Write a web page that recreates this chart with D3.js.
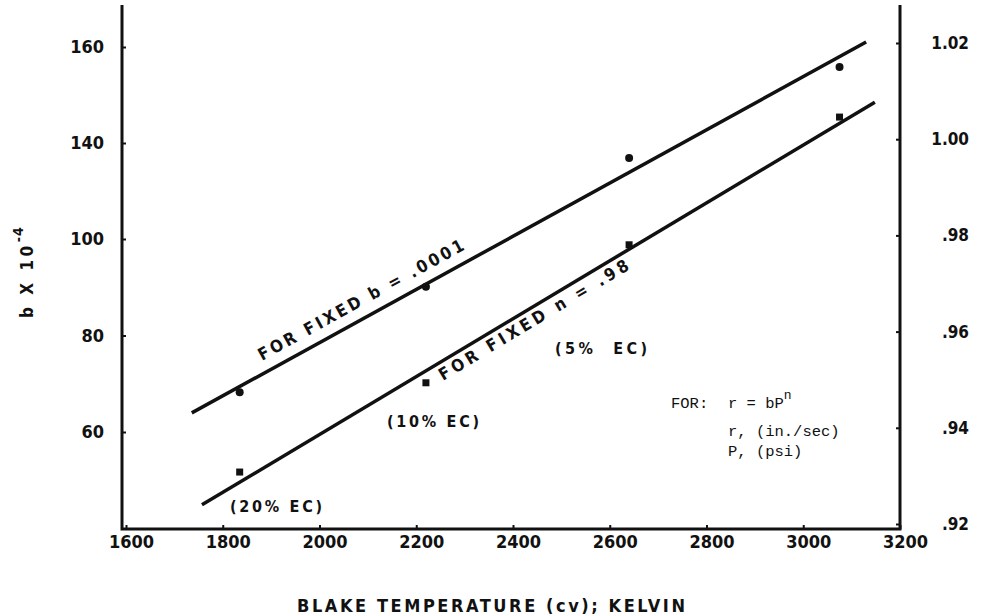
<!DOCTYPE html>
<html>
<head>
<meta charset="utf-8">
<script src="https://cdn.jsdelivr.net/npm/d3@7/dist/d3.min.js"></script>
<style>
  html, body { margin: 0; padding: 0; background: #fff; }
  svg { display: block; }
</style>
</head>
<body>
<svg id="chart" width="985" height="615"></svg>
<script>
// ---- data ----
const xTicks = [1600, 1800, 2000, 2200, 2400, 2600, 2800, 3000, 3200];
const leftTicks = [60, 80, 100, 140, 160];          // b x 10^-4 (as printed)
const rightTicks = [0.92, 0.94, 0.96, 0.98, 1.00, 1.02]; // n
const rightTickLabels = [".92", ".94", ".96", ".98", "1.00", "1.02"];

// measured points
const pointTemps = [1835, 2220, 2640, 3075];
const nValues = [0.9474, 0.9693, 0.9961, 1.0150];   // for fixed b = .0001 (right axis)
const bValues = [51.7, 70.2, 98.8, 145.4];          // for fixed n = .98 (left axis)

// fitted lines (end points)
const nFitTemps = [1736, 3130];
const nFitValues = [0.9431, 1.0202];
const bFitTemps = [1757, 3148];
const bFitValues = [44.9, 148.5];

const ecLabels = ["(20% EC)", "(10% EC)", "(5%  EC)"];

// ---- layout ----
const svg = d3.select("#chart");
const L = 122, R = 900, T = 5, B = 529;
const ink = "#111";
const sans = "'DejaVu Sans Condensed', 'DejaVu Sans', sans-serif";
const mono = "'Liberation Mono', 'DejaVu Sans Mono', monospace";

const x = d3.scaleLinear().domain([1600, 3200]).range([126, 900]);
const yN = d3.scaleLinear().domain([0.92, 1.02]).range([524, 43]);
// the printed left axis is evenly spaced although labelled 60,80,100,140,160
const yB = d3.scaleLinear().domain([60, 100, 140, 160]).range([432, 239, 143, 47]);

// frame
svg.append("path")
  .attr("d", `M${L},${T}V${B}H${R}V${T}`)
  .attr("fill", "none").attr("stroke", ink).attr("stroke-width", 3);

function styleAxis(g) {
  g.select(".domain").remove();
  g.selectAll(".tick line").attr("stroke", ink).attr("stroke-width", 2);
  g.selectAll(".tick text")
    .attr("fill", ink)
    .style("font-family", sans)
    .style("font-weight", "bold")
    .style("font-size", "18px");
}

svg.append("g").attr("transform", `translate(${L},0)`)
  .call(d3.axisLeft(yB).tickValues(leftTicks).tickSize(-4).tickPadding(18).tickFormat(d3.format("d")))
  .call(styleAxis);

svg.append("g").attr("transform", `translate(${R},0)`)
  .call(d3.axisRight(yN).tickValues(rightTicks).tickSize(-4).tickPadding(69)
    .tickFormat((d, i) => rightTickLabels[i]))
  .call(styleAxis)
  .call(g => g.selectAll(".tick text").attr("text-anchor", "end").style("font-size", "17px"));

svg.append("g").attr("transform", `translate(0,${B})`)
  .call(d3.axisBottom(x).tickValues(xTicks).tickSize(-4).tickPadding(6).tickFormat(d3.format("d")))
  .call(styleAxis)
  .call(g => g.selectAll(".tick text").attr("dx", 5));

// fitted lines
const lineN = d3.line().x(d => x(d[0])).y(d => yN(d[1]));
const lineB = d3.line().x(d => x(d[0])).y(d => yB(d[1]));
svg.append("path").datum(d3.zip(nFitTemps, nFitValues))
  .attr("d", lineN).attr("fill", "none").attr("stroke", ink).attr("stroke-width", 3.5);
svg.append("path").datum(d3.zip(bFitTemps, bFitValues))
  .attr("d", lineB).attr("fill", "none").attr("stroke", ink).attr("stroke-width", 3.5);

// points
svg.append("g").selectAll("circle").data(d3.zip(pointTemps, nValues)).join("circle")
  .attr("cx", d => x(d[0])).attr("cy", d => yN(d[1])).attr("r", 4).attr("fill", ink);
svg.append("g").selectAll("rect").data(d3.zip(pointTemps, bValues)).join("rect")
  .attr("x", d => x(d[0]) - 3.5).attr("y", d => yB(d[1]) - 3.5)
  .attr("width", 7).attr("height", 7).attr("fill", ink);

// line annotations
const annStyle = s => s.attr("fill", ink).style("font-family", sans)
  .style("font-weight", "bold").style("font-size", "17px");

svg.append("text").attr("transform", "translate(262,361) rotate(-28.8)")
  .attr("textLength", 232).attr("lengthAdjust", "spacing")
  .text("FOR FIXED b = .0001").call(annStyle);
svg.append("text").attr("transform", "translate(443,381) rotate(-30.9)")
  .attr("textLength", 218).attr("lengthAdjust", "spacing")
  .text("FOR FIXED n = .98").call(annStyle);

const ecPos = [[230, 512], [387, 427], [555, 354]];
svg.append("g").selectAll("text").data(ecLabels).join("text")
  .attr("x", (d, i) => ecPos[i][0]).attr("y", (d, i) => ecPos[i][1])
  .attr("textLength", 92).attr("lengthAdjust", "spacing")
  .style("white-space", "pre")
  .text(d => d).call(annStyle).style("font-size", "16px");

// formula block
const f = svg.append("g").attr("fill", ink).style("font-family", mono).style("font-size", "15.5px");
f.append("text").attr("x", 671).attr("y", 408).text("FOR:");
const t1 = f.append("text").attr("x", 728).attr("y", 408);
t1.append("tspan").text("r = bP");
t1.append("tspan").attr("dy", -9).style("font-size", "13px").text("n");
f.append("text").attr("x", 728).attr("y", 436).style("white-space", "pre").text("r, (in./sec)");
f.append("text").attr("x", 728).attr("y", 456).style("white-space", "pre").text("P, (psi)");

// axis titles
const yt = svg.append("text").attr("transform", "translate(33,318) rotate(-90)")
  .attr("fill", ink).style("font-family", sans).style("font-weight", "bold").style("font-size", "17px")
  .style("white-space", "pre");
yt.append("tspan").style("letter-spacing", "3.5px").text("b X 10");
yt.append("tspan").attr("dy", -10).style("font-size", "14px").style("letter-spacing", "1px").text("-4");

svg.append("text").attr("x", 297).attr("y", 612)
  .attr("textLength", 388).attr("lengthAdjust", "spacing")
  .attr("fill", ink).style("font-family", sans).style("font-weight", "bold").style("font-size", "18px")
  .style("white-space", "pre")
  .text("BLAKE TEMPERATURE (cv); KELVIN");
</script>
</body>
</html>
